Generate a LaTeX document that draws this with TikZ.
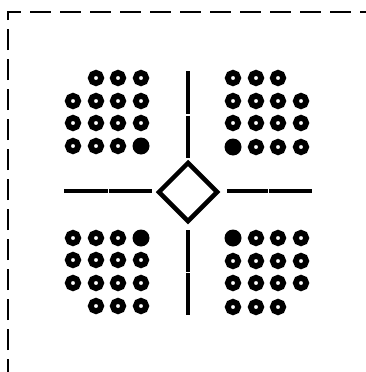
\documentclass[tikz,border=0pt]{standalone}
\usetikzlibrary{shapes.geometric}
\begin{document}
\begin{tikzpicture}[x=1pt,y=-1pt,
  ring/.style={circle,draw=black,line width=5.8pt,minimum size=10.4pt,inner sep=0pt},
  dot/.style={circle,fill=black,minimum size=17pt,inner sep=0pt},
  bar/.style={line width=4.5pt,line cap=butt},
  frame/.style={line width=1.5pt,dash pattern=on 21pt off 9pt},
  center/.style={diamond,draw=black,line width=4.5pt,minimum width=60pt,minimum height=60pt,inner sep=0pt}]
\useasboundingbox (0,0) rectangle (366,372);
% dashed frame
\coordinate (fb) at (8,380);
\coordinate (fc) at (8,12);
\coordinate (fr) at (370,12);
\draw[frame] (fb) -- (fc) -- (fr);
% centre diamond
\node[center] (dia) at (188,192) {};
% cross bars
\coordinate (t1) at (188,71); \coordinate (t2) at (188,114);
\coordinate (t3) at (188,115.5); \coordinate (t4) at (188,158);
\coordinate (b1) at (188,230); \coordinate (b2) at (188,271.5);
\coordinate (b3) at (188,273); \coordinate (b4) at (188,315);
\coordinate (l1) at (64,191); \coordinate (l2) at (107.5,191);
\coordinate (l3) at (109,191); \coordinate (l4) at (152,191);
\coordinate (r1) at (227,191); \coordinate (r2) at (267.5,191);
\coordinate (r3) at (269,191); \coordinate (r4) at (312,191);
\draw[bar] (t1) -- (t2); \draw[bar] (t3) -- (t4);
\draw[bar] (b1) -- (b2); \draw[bar] (b3) -- (b4);
\draw[bar] (l1) -- (l2); \draw[bar] (l3) -- (l4);
\draw[bar] (r1) -- (r2); \draw[bar] (r3) -- (r4);
% top-left group
\foreach \x [count=\i] in {96,118,141} \node[ring] (tla\i) at (\x,78) {};
\foreach \y [count=\j] in {101,123} {
  \foreach \x [count=\i] in {73,96,118,141} \node[ring] (tl\j\i) at (\x,\y) {};
}
\foreach \x [count=\i] in {73,96,118} \node[ring] (tld\i) at (\x,146) {};
\node[dot] (tlf) at (141,146) {};
% top-right group
\foreach \x [count=\i] in {233,256,278} \node[ring] (tra\i) at (\x,78) {};
\foreach \y [count=\j] in {101,123} {
  \foreach \x [count=\i] in {233,256,278,301} \node[ring] (tr\j\i) at (\x,\y) {};
}
\node[dot] (trf) at (233,147) {};
\foreach \x [count=\i] in {256,278,301} \node[ring] (trd\i) at (\x,147) {};
% bottom-left group
\foreach \x [count=\i] in {73,96,118} \node[ring] (bla\i) at (\x,238) {};
\node[dot] (blf) at (141,238) {};
\foreach \y [count=\j] in {260,283} {
  \foreach \x [count=\i] in {73,96,118,141} \node[ring] (bl\j\i) at (\x,\y) {};
}
\foreach \x [count=\i] in {96,118,141} \node[ring] (bld\i) at (\x,306) {};
% bottom-right group
\node[dot] (brf) at (233,238) {};
\foreach \x [count=\i] in {256,278,301} \node[ring] (bra\i) at (\x,238) {};
\foreach \y [count=\j] in {261,283} {
  \foreach \x [count=\i] in {233,256,278,301} \node[ring] (br\j\i) at (\x,\y) {};
}
\foreach \x [count=\i] in {233,256,278} \node[ring] (brd\i) at (\x,307) {};
\end{tikzpicture}
\end{document}
